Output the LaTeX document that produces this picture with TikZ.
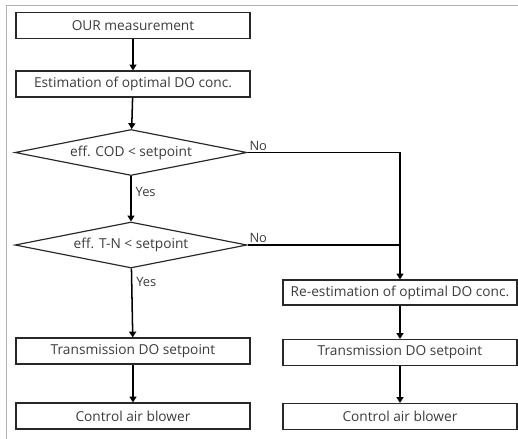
\documentclass[tikz,border=0pt]{standalone}
\usepackage{fontspec}
\setmainfont{Open Sans}
\usetikzlibrary{%
        arrows.meta,
        shapes.geometric
    }
\definecolor{boxline}{RGB}{40, 40, 40}
\definecolor{textgray}{RGB}{60, 60, 60}
\tikzset{
    stepbox/.style={draw=boxline, line width=1pt, minimum width=7.02cm,
        minimum height=0.78cm, inner sep=0pt, text=textgray,
        font=\fontsize{11.7}{13}\selectfont},
    testbox/.style={draw=boxline, line width=1pt, diamond, aspect=5,
        minimum width=6.96cm, minimum height=1.38cm, inner sep=0pt,
        text=textgray, font=\fontsize{11.7}{13}\selectfont},
    flow/.style={-{Triangle[length=5pt, width=6pt]}, line width=1.3pt},
    answer/.style={text=textgray, font=\fontsize{11}{13}\selectfont}
}

\begin{document}
\begin{tikzpicture}[x=0.03cm, y=-0.03cm]

    \useasboundingbox (0, 0) rectangle (518, 439);
    \draw[gray!60, line width=0.8pt] (6, 439) -- (6, 5) -- (518, 5);

    % left column
    \node[stepbox] (meas) at (133, 25.5) {OUR measurement};
    \node[stepbox] (est) at (133, 84) {Estimation of optimal DO conc.};
    \node[testbox] (cod) at (131, 152.5) {eff. COD < setpoint};
    \node[testbox] (tn) at (131, 245) {eff. T-N < setpoint};
    \node[stepbox] (lefttx) at (133, 351) {Transmission DO setpoint};
    \node[stepbox] (leftctl) at (133, 416) {Control air blower};

    % right column
    \node[stepbox, minimum height=0.75cm] (reest) at (400, 292.5)
        {Re-estimation of optimal DO conc.};
    \node[stepbox] (righttx) at (400, 352.5) {Transmission DO setpoint};
    \node[stepbox] (rightctl) at (400, 416.5) {Control air blower};

    \draw[flow] (meas) -- (est);
    \draw[flow] (est) -- (cod);
    \draw[flow] (cod) -- node[answer, right, pos=0.35] {Yes} (tn);
    \draw[flow] (tn) -- node[answer, right, pos=0.2] {Yes} (lefttx);
    \draw[flow] (lefttx) -- (leftctl);

    \draw[flow] (cod.east) node[answer, above right, inner sep=1pt] {No}
        -| (reest.north);
    \draw[line width=1.3pt] (tn.east) node[answer, above right, inner sep=1pt] {No}
        -- (tn.east -| reest.north);

    \draw[flow] (reest) -- (righttx);
    \draw[flow] (righttx) -- (rightctl);

\end{tikzpicture}
\end{document}
